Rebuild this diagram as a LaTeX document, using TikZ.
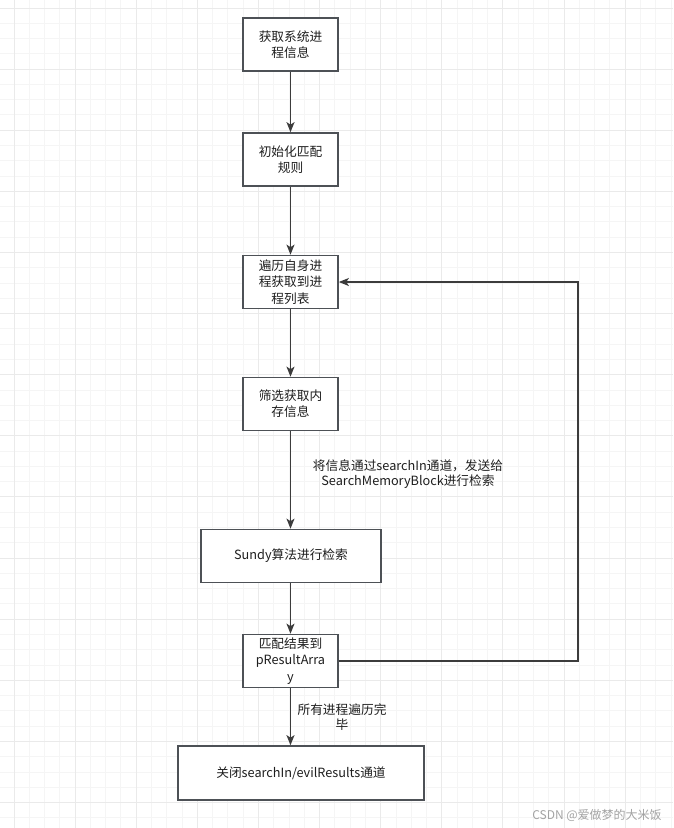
\documentclass[tikz,border=0pt]{standalone}
\usepackage{fontspec}
\setmainfont{Noto Sans CJK SC}
\usetikzlibrary{arrows.meta}
\definecolor{gridminor}{HTML}{F5F5F5}
\definecolor{gridmajor}{HTML}{EAEAEA}
\definecolor{boxc}{HTML}{4D5156}
\definecolor{linec}{HTML}{3C3C3C}
\definecolor{txtc}{HTML}{1E1E1E}
\definecolor{wmc}{HTML}{A3A3A3}
\begin{document}
\begin{tikzpicture}[x=1pt,y=-1pt,
  minorline/.style={draw=gridminor,line width=1pt},
  majorline/.style={draw=gridmajor,line width=1pt},
  flowbox/.style={draw=boxc,line width=1.7pt,fill=white,align=center,inner sep=0pt,
    minimum width=95,minimum height=53,text=txtc,font=\fontsize{12.7}{16.3}\selectfont},
  arr/.style={draw=linec,line width=1.4pt,-{Stealth[length=10pt,width=8pt,inset=2.5pt]}},
  lbl/.style={align=center,inner sep=0pt,text=txtc,font=\fontsize{12.7}{15.5}\selectfont}]
\fill[white] (0,0) rectangle (673,828);
\useasboundingbox (0,0) rectangle (673,828);
% grid
\foreach \i in {0,...,43} {\draw[minorline] ({14+15.28*\i},0) -- ({14+15.28*\i},828);}
\foreach \j in {0,...,53} {\draw[minorline] (0,{8+15.28*\j}) -- (673,{8+15.28*\j});}
\foreach \i in {0,4,...,40} {\draw[majorline] ({14+15.28*\i},0) -- ({14+15.28*\i},828);}
\foreach \j in {0,4,...,52} {\draw[majorline] (0,{8+15.28*\j}) -- (673,{8+15.28*\j});}
% nodes
\node[flowbox] (a1) at (290.5,44.5) {获取系统进\\程信息};
\node[flowbox] (a2) at (290.5,159.5) {初始化匹配\\规则};
\node[flowbox] (a3) at (290.5,282) {遍历自身进\\程获取到进\\程列表};
\node[flowbox] (a4) at (290.5,404) {筛选获取内\\存信息};
\node[flowbox,minimum width=180] (a5) at (291,556) {Sundy算法进行检索};
\node[flowbox] (a6) at (290.5,661) {匹配结果到\\pResultArra\\y};
\node[flowbox,minimum width=246,minimum height=54] (a7) at (301,773) {关闭searchIn/evilResults通道};
% connectors
\draw[arr] (a1) -- (a2);
\draw[arr] (a2) -- (a3);
\draw[arr] (a3) -- (a4);
\draw[arr] (a4.south) -- (a4.south |- a5.north);
\draw[arr] (a5.south -| a6.south) -- (a6.north);
\draw[arr] (a6.south) -- (a6.south |- a7.north);
\coordinate (c1) at (578,661);
\draw[arr] (a6.east) -- (c1) |- (a3.east);
% labels
\node[lbl] (l1) at (408,474) {将信息通过searchIn通道，发送给\\SearchMemoryBlock进行检索};
\node[lbl] (l2) at (342,717) {所有进程遍历完\\毕};
\node[inner sep=0pt,text=wmc,font=\fontsize{12}{14}\selectfont] (wm) at (597,815) {CSDN @爱做梦的大米饭};
\end{tikzpicture}
\end{document}
